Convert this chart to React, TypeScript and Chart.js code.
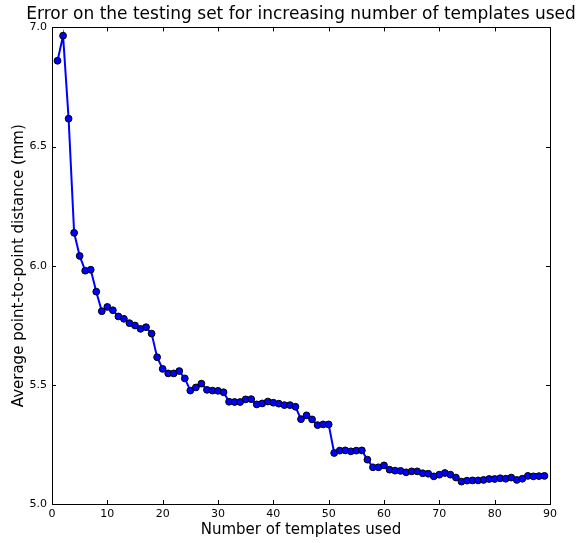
import React, { useEffect, useRef } from "react";
import { Chart, registerables } from "chart.js";

Chart.register(...registerables);

const templates: number[] = [
  1, 2, 3, 4, 5, 6, 7, 8, 9, 10, 11, 12, 13, 14, 15, 16, 17, 18, 19, 20,
  21, 22, 23, 24, 25, 26, 27, 28, 29, 30, 31, 32, 33, 34, 35, 36, 37, 38, 39, 40,
  41, 42, 43, 44, 45, 46, 47, 48, 49, 50, 51, 52, 53, 54, 55, 56, 57, 58, 59, 60,
  61, 62, 63, 64, 65, 66, 67, 68, 69, 70, 71, 72, 73, 74, 75, 76, 77, 78, 79, 80,
  81, 82, 83, 84, 85, 86, 87, 88, 89,
];

const distances: number[] = [
  6.86, 6.965, 6.617, 6.138, 6.041, 5.979, 5.983, 5.891, 5.809, 5.827,
  5.813, 5.787, 5.777, 5.759, 5.749, 5.735, 5.742, 5.715, 5.616, 5.567,
  5.548, 5.548, 5.558, 5.527, 5.476, 5.489, 5.505, 5.479, 5.476, 5.475,
  5.469, 5.429, 5.428, 5.428, 5.439, 5.44, 5.418, 5.422, 5.43, 5.425,
  5.421, 5.415, 5.415, 5.408, 5.356, 5.372, 5.355, 5.331, 5.334, 5.334,
  5.214, 5.224, 5.225, 5.221, 5.224, 5.225, 5.186, 5.154, 5.154, 5.162,
  5.144, 5.14, 5.139, 5.133, 5.137, 5.137, 5.129, 5.127, 5.116, 5.123,
  5.13, 5.123, 5.111, 5.094, 5.098, 5.099, 5.099, 5.101, 5.105, 5.105,
  5.108, 5.106, 5.111, 5.101, 5.106, 5.118, 5.116, 5.117, 5.118,
];

const xTicks: number[] = [0, 10, 20, 30, 40, 50, 60, 70, 80, 90];
const yTicks: number[] = [5.0, 5.5, 6.0, 6.5, 7.0];

const titleText = "Error on the testing set for increasing number of templates used";
const xLabel = "Number of templates used";
const yLabel = "Average point-to-point distance (mm)";

const FONT = "'DejaVu Sans', sans-serif";

const framePlugin = {
  id: "frameTicks",
  afterLayout(chart: any) {
    const tb = chart.titleBlock;
    const ca = chart.chartArea;
    if (tb && ca) {
      const shift = (ca.left + ca.right) / 2 - (tb.left + tb.right) / 2;
      tb.left += shift;
      tb.right += shift;
    }
  },
  afterDraw(chart: any) {
    const { ctx, chartArea, scales } = chart;
    const { left, right, top, bottom } = chartArea;
    ctx.save();
    ctx.strokeStyle = "#000";
    ctx.lineWidth = 1;
    const len = 4;
    ctx.beginPath();
    for (const v of xTicks) {
      const px = Math.round(scales.x.getPixelForValue(v)) + 0.5;
      ctx.moveTo(px, bottom);
      ctx.lineTo(px, bottom - len);
      ctx.moveTo(px, top);
      ctx.lineTo(px, top + len);
    }
    for (const v of yTicks) {
      const py = Math.round(scales.y.getPixelForValue(v)) + 0.5;
      ctx.moveTo(left, py);
      ctx.lineTo(left + len, py);
      ctx.moveTo(right, py);
      ctx.lineTo(right - len, py);
    }
    ctx.stroke();
    ctx.strokeRect(
      Math.round(left) + 0.5,
      Math.round(top) + 0.5,
      Math.round(right - left),
      Math.round(bottom - top)
    );
    ctx.restore();
  },
};

export default function App() {
  const ref = useRef<HTMLCanvasElement | null>(null);

  useEffect(() => {
    if (!ref.current) return;
    const chart = new Chart(ref.current, {
      type: "line",
      data: {
        datasets: [
          {
            data: templates.map((t, i) => ({ x: t, y: distances[i] })),
            borderColor: "#0000ff",
            borderWidth: 2,
            backgroundColor: "#0000ff",
            pointBackgroundColor: "#0000ff",
            pointBorderColor: "#000000",
            pointBorderWidth: 1,
            pointRadius: 3.4,
            tension: 0,
          },
        ],
      },
      options: {
        responsive: false,
        animation: false,
        layout: { padding: { left: 0, right: 29, top: 0, bottom: 0 } },
        plugins: {
          legend: { display: false },
          tooltip: { enabled: false },
          title: {
            display: true,
            text: titleText,
            color: "#000",
            font: { family: FONT, size: 17, weight: "normal", lineHeight: 1.2 },
            padding: { top: 4, bottom: 3 },
          },
        },
        scales: {
          x: {
            type: "linear",
            min: 0,
            max: 90,
            afterBuildTicks: (scale: any) => {
              scale.ticks = xTicks.map((v) => ({ value: v }));
            },
            afterFit: (scale: any) => {
              scale.height = 39;
            },
            grid: { display: false, drawTicks: false },
            border: { display: false },
            ticks: {
              color: "#000",
              font: { family: FONT, size: 11 },
              padding: 4,
              maxRotation: 0,
              callback: (v: any) => String(v),
            },
            title: {
              display: true,
              text: xLabel,
              color: "#000",
              font: { family: FONT, size: 15 },
              padding: { top: 0, bottom: 4 },
            },
          },
          y: {
            type: "linear",
            min: 5,
            max: 7,
            afterBuildTicks: (scale: any) => {
              scale.ticks = yTicks.map((v) => ({ value: v }));
            },
            afterFit: (scale: any) => {
              scale.width = 52;
            },
            grid: { display: false, drawTicks: false },
            border: { display: false },
            ticks: {
              color: "#000",
              font: { family: FONT, size: 11 },
              padding: 5,
              callback: (v: any) => Number(v).toFixed(1),
            },
            title: {
              display: true,
              text: yLabel,
              color: "#000",
              font: { family: FONT, size: 15 },
              padding: { top: 10, bottom: 0 },
            },
          },
        },
      },
      plugins: [framePlugin],
    } as any);
    return () => chart.destroy();
  }, []);

  return (
    <div style={{ position: "absolute", left: 0, top: 0, width: 579, height: 543, background: "#fff" }}>
      <canvas ref={ref} width={579} height={543} style={{ width: 579, height: 543 }} />
    </div>
  );
}
